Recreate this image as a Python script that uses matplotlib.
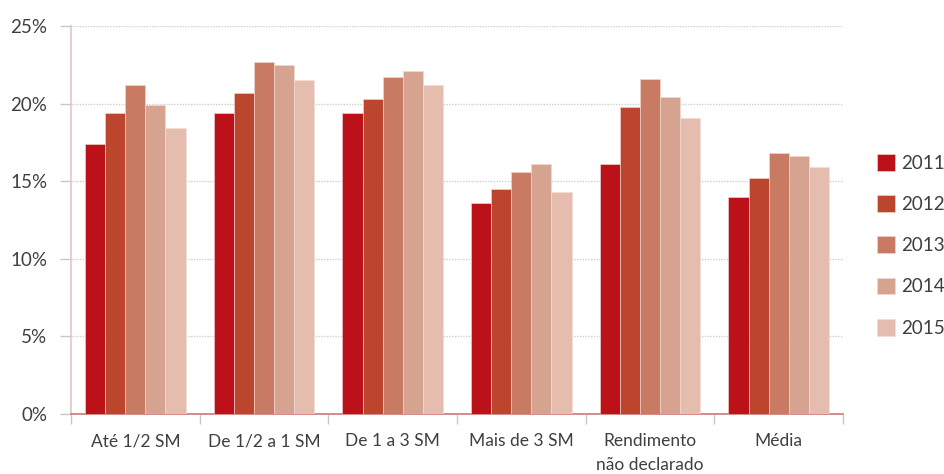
import numpy as np
import matplotlib
matplotlib.use("Agg")
import matplotlib.pyplot as plt
from matplotlib.ticker import FixedLocator, FuncFormatter

plt.rcParams['font.family'] = ['Lato', 'DejaVu Sans']

# Data (%)
categories = ["Até 1/2 SM", "De 1/2 a 1 SM", "De 1 a 3 SM", "Mais de 3 SM",
              "Rendimento\nnão declarado", "Média"]
years = ["2011", "2012", "2013", "2014", "2015"]
v2011 = [17.4, 19.4, 19.4, 13.6, 16.1, 14.0]
v2012 = [19.4, 20.7, 20.3, 14.5, 19.8, 15.2]
v2013 = [21.2, 22.7, 21.7, 15.6, 21.6, 16.8]
v2014 = [19.9, 22.5, 22.1, 16.1, 20.4, 16.6]
v2015 = [18.4, 21.5, 21.2, 14.3, 19.1, 15.9]
series = [v2011, v2012, v2013, v2014, v2015]
colors = ["#BD111A", "#BC452E", "#C97A63", "#D7A391", "#E4BDAE"]

fig = plt.figure(figsize=(9.44, 4.74), dpi=100)
ax = fig.add_axes([0.0752, 0.1266, 0.8178, 0.8186])

x = np.arange(len(categories))
bar_w = 0.156
for i, (vals, col, yr) in enumerate(zip(series, colors, years)):
    ax.bar(x + (i - 2) * bar_w, vals, bar_w, color=col, label=yr,
           edgecolor="#f2dcd6", linewidth=0.4, zorder=3)

ax.set_xlim(-0.5, len(categories) - 0.5)
ax.set_ylim(0, 25)
ax.set_yticks(np.arange(0, 26, 5))
ax.yaxis.set_major_formatter(FuncFormatter(lambda v, p: f"{v:.0f}%"))

# category labels centred, tick marks at the boundaries
ax.set_xticks(x)
ax.set_xticklabels(categories)
ax.xaxis.set_minor_locator(FixedLocator(np.arange(-0.5, len(categories), 1)))
ax.tick_params(axis="x", which="major", length=0, pad=14, labelsize=12.5,
               labelcolor="#3f3f3f")
ax.tick_params(axis="x", which="minor", length=7, color="#c8c8c8", width=1)
ax.tick_params(axis="y", length=8, color="#c8c8c8", width=1, pad=9,
               labelsize=13.5, labelcolor="#3f3f3f")
for lab in ax.get_xticklabels():
    lab.set_verticalalignment("top")
    lab.set_linespacing(1.55)

ax.grid(axis="y", linestyle=(0, (1, 1)), color="#cfcfcf", linewidth=1, zorder=0)
ax.set_axisbelow(True)

for s in ["top", "right"]:
    ax.spines[s].set_visible(False)
ax.spines["left"].set_color("#dcc8cb")
ax.spines["left"].set_linewidth(1.2)
ax.spines["bottom"].set_color("#d0777a")
ax.spines["bottom"].set_linewidth(1.2)

ax.legend(loc="center left", bbox_to_anchor=(1.034, 0.435), frameon=False,
          borderaxespad=0, fontsize=13.5, handlelength=1.0, handleheight=1.0,
          labelspacing=1.25, handletextpad=0.3, labelcolor="#3f3f3f")

fig.savefig("out.png", dpi=100)
